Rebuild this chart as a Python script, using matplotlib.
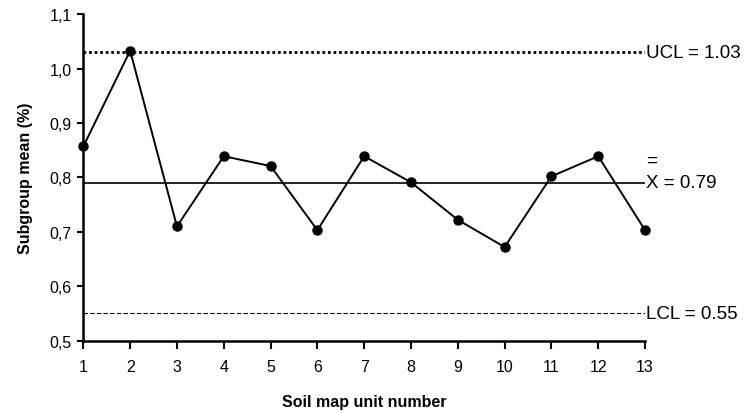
import matplotlib.pyplot as plt

plt.rcParams['font.family'] = ['Liberation Sans', 'DejaVu Sans']

# Subgroup means per soil map unit
units = list(range(1, 14))
means = [0.857, 1.033, 0.710, 0.839, 0.821, 0.703, 0.839,
         0.791, 0.722, 0.672, 0.802, 0.839, 0.703]

ucl = 1.03
center = 0.79
lcl = 0.55

y_ticks = [0.5, 0.6, 0.7, 0.8, 0.9, 1.0, 1.1]
y_labels = ['0,5', '0,6', '0,7', '0,8', '0,9', '1,0', '1,1']

fig = plt.figure(figsize=(7.44, 4.14), dpi=100)
ax = fig.add_axes([0.112, 0.175, 0.755, 0.788])

# control limits
ax.axhline(ucl, color='black', lw=2.0, linestyle=(0, (1, 1)))
ax.axhline(center, color='black', lw=1.2)
ax.axhline(lcl, color='black', lw=0.8, linestyle=(0, (4, 2)))

ax.plot(units, means, color='black', lw=1.4, marker='o', markersize=6.5,
        clip_on=False, zorder=5)

ax.set_xlim(1, 13)
ax.set_ylim(0.5, 1.1)
ax.set_xticks(units)
ax.set_yticks(y_ticks)
ax.set_yticklabels(y_labels)
ax.tick_params(labelsize=11.5, width=1.5, direction='out')
ax.tick_params(axis='x', length=6, pad=7)
ax.tick_params(axis='y', length=4.5, pad=4)

for s in ['top', 'right']:
    ax.spines[s].set_visible(False)
for s in ['left', 'bottom']:
    ax.spines[s].set_linewidth(1.8)

ax.set_ylabel('Subgroup mean (%)', fontsize=11.5, fontweight='bold', labelpad=12)
ax.set_xlabel('Soil map unit number', fontsize=11.5, fontweight='bold', labelpad=15)

# limit labels at the right end
ax.text(13.02, ucl, 'UCL = 1.03', fontsize=13.5, va='center', ha='left')
ax.text(13.02, center, 'X = 0.79', fontsize=13.5, va='center', ha='left')
ax.text(13.02, center + 0.042, '=', fontsize=13.5, va='center', ha='left')
ax.text(13.02, lcl, 'LCL = 0.55', fontsize=13.5, va='center', ha='left')

fig.savefig('out.png', dpi=100)
